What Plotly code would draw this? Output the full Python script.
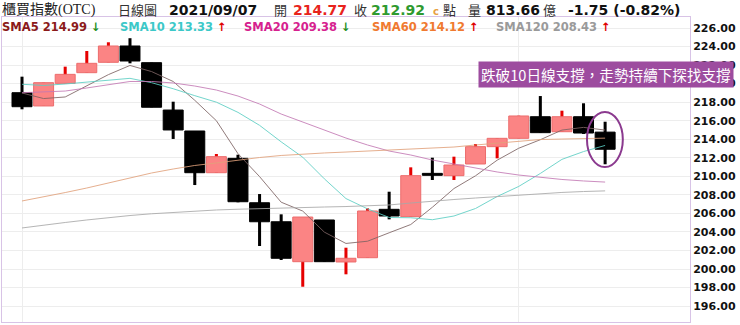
import plotly.graph_objects as go

dates = ["07/30", "08/02", "08/03", "08/04", "08/05", "08/06", "08/09", "08/10", "08/11", "08/12",
         "08/13", "08/16", "08/17", "08/18", "08/19", "08/20", "08/23", "08/24", "08/25", "08/26",
         "08/27", "08/30", "08/31", "09/01", "09/02", "09/03", "09/06", "09/07"]
opens = [219.02, 217.59, 220.03, 221.18, 222.30, 224.06, 222.26, 217.15, 214.89, 210.39,
         211.94, 207.15, 205.10, 200.79, 205.29, 200.76, 201.22, 206.44, 205.65, 210.32,
         210.07, 211.33, 213.20, 214.10, 216.43, 214.81, 216.43, 214.77]
highs = [220.75, 220.10, 221.83, 223.52, 224.46, 224.90, 222.26, 218.05, 214.89, 212.41,
         212.33, 208.09, 205.90, 205.61, 205.29, 202.30, 206.55, 208.34, 210.97, 212.01,
         212.12, 213.49, 214.10, 216.54, 218.66, 217.08, 217.88, 215.89]
lows = [217.23, 217.59, 220.03, 221.18, 222.30, 222.19, 217.45, 214.03, 209.06, 210.39,
        207.20, 202.48, 200.97, 198.09, 200.79, 199.43, 201.22, 205.36, 205.65, 209.60,
        209.60, 211.33, 211.94, 214.10, 214.71, 214.81, 214.57, 211.30]
closes = [217.51, 220.10, 221.00, 222.19, 224.06, 222.44, 217.45, 215.00, 210.39, 212.12,
          207.26, 205.10, 201.16, 205.61, 200.79, 201.16, 206.26, 205.72, 210.07, 210.11,
          211.22, 213.20, 214.10, 216.51, 214.71, 216.43, 214.67, 212.92]

sma5 = [218.99, 218.39, 218.56, 219.74, 220.97, 221.96, 221.30, 220.23, 218.20, 216.00,
        212.44, 209.97, 207.21, 206.25, 203.98, 202.76, 203.00, 203.91, 204.80, 206.66,
        208.68, 210.06, 211.74, 213.03, 213.95, 214.99, 215.28, 214.99]
sma10 = [219.93, 219.80, 219.96, 220.17, 220.39, 220.57, 220.10, 219.45, 218.70, 218.00,
         216.90, 215.50, 213.72, 212.06, 209.73, 207.60, 206.49, 205.56, 205.53, 205.32,
         205.72, 206.53, 207.82, 208.91, 210.31, 211.83, 212.67, 213.33]
sma20 = [219.02, 219.10, 219.20, 219.53, 219.85, 220.23, 220.23, 220.07, 219.74, 219.31,
         218.66, 217.80, 216.72, 215.86, 215.00, 214.13, 213.38, 212.73, 212.30, 211.76,
         211.33, 210.90, 210.47, 210.14, 209.87, 209.66, 209.50, 209.38]
sma60 = [207.34, 207.77, 208.25, 208.74, 209.28, 209.82, 210.36, 210.79, 211.17, 211.44,
         211.76, 212.03, 212.25, 212.41, 212.52, 212.62, 212.73, 212.84, 212.95, 213.06,
         213.16, 213.38, 213.59, 213.81, 213.97, 214.02, 214.08, 214.12]
sma120 = [204.43, 204.75, 205.02, 205.29, 205.56, 205.77, 205.96, 206.12, 206.26, 206.37,
          206.45, 206.53, 206.58, 206.64, 206.69, 206.74, 206.80, 206.91, 207.12, 207.34,
          207.50, 207.66, 207.82, 207.99, 208.15, 208.26, 208.36, 208.43]

ma_names = ["SMA5", "SMA10", "SMA20", "SMA60", "SMA120"]
ma_last = ["214.99", "213.33", "209.38", "214.12", "208.43"]
ma_dir = ["down", "up", "down", "up", "up"]
y_ticks = [196, 198, 200, 202, 204, 206, 208, 210, 212, 214, 216, 218, 220, 222, 224, 226]

header_date = "2021/09/07"
header_open = "214.77"
header_close = "212.92"
header_volume = "813.66"
header_change = "-1.75 (-0.82%)"
note_text = "跌破10日線支撐，走勢持續下探找支撐"

# ---- layout geometry (pixels) ----
W, H = 740, 325
L, R, T, B = 2, 50, 17, 3
PW, PH = W - L - R, H - T - B


def px(x):
    return (x - L) / PW


def py(y):
    return 1 - (y - T) / PH


xs = list(range(len(dates)))
up = [c >= o for o, c in zip(opens, closes)]
RED_BODY = "#FB8484"
RED_EDGE = "#EC6C6C"
RED_WICK = "#E60000"

fig = go.Figure()

# wicks
fig.add_trace(go.Bar(
    x=xs, y=[h - l for h, l in zip(highs, lows)], base=lows, width=0.14,
    marker=dict(color=[RED_WICK if u else "#000000" for u in up], line=dict(width=0)),
    hoverinfo="skip"))
# bodies
fig.add_trace(go.Bar(
    x=xs, y=[max(abs(c - o), 0.12) for o, c in zip(opens, closes)],
    base=[min(o, c) for o, c in zip(opens, closes)], width=0.925,
    marker=dict(color=[RED_BODY if u else "#000000" for u in up],
                line=dict(color=[RED_EDGE if u else "#000000" for u in up], width=1)),
    hoverinfo="skip"))

line_colors = ["#7E6464", "#5CCFC4", "#C47AB5", "#E2A27C", "#A9A9A9"]
for name, vals, col in zip(ma_names, [sma5, sma10, sma20, sma60, sma120], line_colors):
    fig.add_trace(go.Scatter(x=xs, y=vals, mode="lines", name=name,
                             line=dict(color=col, width=1), opacity=0.85, hoverinfo="skip"))

# ellipse around last candle
fig.add_shape(type="circle", xref="x", yref="y", x0=26.16, x1=27.82, y0=211.0, y1=216.94,
              line=dict(color="#8B3A8F", width=2))

ann = []
CJK = "Noto Sans CJK TC"
NUM = "DejaVu Sans"


def a(xpix, ypix, text, color="#000", size=13, family=NUM, bold=False):
    ann.append(dict(xref="paper", yref="paper", x=px(xpix), y=py(ypix), xanchor="left",
                    yanchor="middle", showarrow=False, text=(f"<b>{text}</b>" if bold else text),
                    font=dict(color=color, size=size, family=family)))


# header row 1
a(0, 9.5, "櫃買指數(OTC)", "#222", 14, "Liberation Serif, " + CJK)
a(116, 9.5, "日線圖", "#333", 13, CJK)
a(167, 9.5, header_date, "#111", 14, NUM, True)
a(272, 9.5, "開", "#333", 13, CJK)
a(291, 9.5, header_open, "#E8231C", 14, NUM, True)
a(352, 9.5, "收", "#333", 13, CJK)
a(369, 9.5, header_close, "#2F9A2F", 14, NUM, True)
a(431, 11, "c", "#E8A040", 10, NUM, True)
a(441, 9.5, "點", "#333", 13, CJK)
a(466, 9.5, "量", "#333", 13, CJK)
a(484, 9.5, header_volume, "#111", 14, NUM, True)
a(541, 9.5, "億", "#333", 13, CJK)
a(566, 9.5, header_change, "#111", 14, NUM, True)

# header row 2: moving average labels
label_colors = ["#8B1A1A", "#3CC8C8", "#D6218E", "#F07A30", "#9A9A9A"]
label_x = [0, 118, 242, 370, 494]
for nm, val, d, col, lx in zip(ma_names, ma_last, ma_dir, label_colors, label_x):
    arrow = ("<span style='color:#1E8F1E'>↓</span>" if d == "down"
             else "<span style='color:#E00000'>↑</span>")
    a(lx, 26.5, f"{nm} {val} {arrow}", col, 11.5, NUM, True)

# purple callout box
ann.append(dict(xref="paper", yref="paper", x=px(478), y=py(74.7), xanchor="left",
                yanchor="middle", showarrow=False, text=note_text, bgcolor="#9D4C9F",
                borderpad=2, font=dict(color="#FFFFFF", size=14.6, family=CJK)))

fig.update_layout(
    width=W, height=H, margin=dict(l=L, r=R, t=T, b=B),
    paper_bgcolor="#FFFFFF", plot_bgcolor="#FFFFFF", showlegend=False,
    barmode="overlay", annotations=ann,
    xaxis=dict(range=[-0.926, 30.93], tickvals=[0, 23], showticklabels=False, ticks="",
               showgrid=True, gridcolor="#EDEDED", gridwidth=1, zeroline=False,
               showline=True, mirror=True, linecolor="#D8C3E6", linewidth=1, fixedrange=True),
    yaxis=dict(side="right", range=[194.285, 227.187], tickvals=y_ticks,
               ticktext=[f"{v:.2f}" for v in y_ticks], ticks="",
               tickfont=dict(family=NUM, size=11, color="#111", weight="bold"),
               showgrid=True, gridcolor="#EDEDED", gridwidth=1, zeroline=False,
               showline=True, mirror=True, linecolor="#D8C3E6", linewidth=1, fixedrange=True),
)

fig.write_html("out.html")
